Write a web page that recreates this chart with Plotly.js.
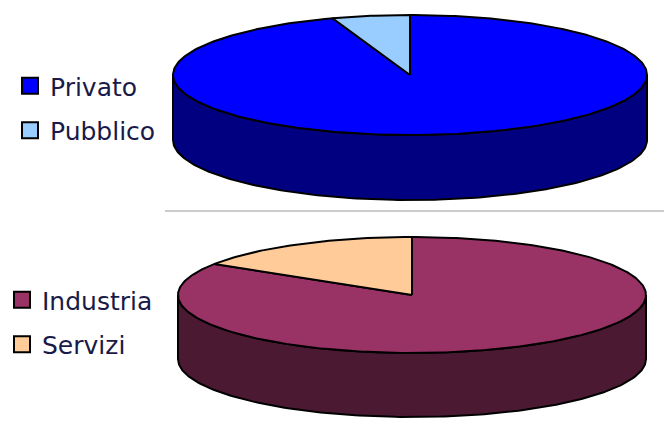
<!DOCTYPE html>
<html>
<head>
<meta charset="utf-8">
<script src="https://cdn.plot.ly/plotly-3.0.1.min.js"></script>
<style>html,body{margin:0;padding:0;background:#fff;}#chart{width:664px;height:422px;}</style>
</head>
<body>
<div id="chart"></div>
<script>
// ---- data ----
const topLabels = ['Privato', 'Pubblico'];
const topValues = [94.7, 5.3];
const topColors = ['#0000FF', '#99CCFF'];
const topSideColors = ['#000080', '#4C6680'];

const botLabels = ['Industria', 'Servizi'];
const botValues = [84, 16];
const botColors = ['#993366', '#FFCC99'];
const botSideColors = ['#4C1933', '#80664C'];

// ---- geometry of the two pseudo-3D pies (pixel space) ----
const topGeom = {cx: 410, cy: 75, rx: 237, ry: 60, depth: 65};
const botGeom = {cx: 412, cy: 295, rx: 234, ry: 58, depth: 64};

function pt(g, deg, dy) {
  const r = deg * Math.PI / 180;
  return [g.cx + g.rx * Math.sin(r), g.cy - g.ry * Math.cos(r) + (dy || 0)];
}
function arc(g, a0, a1, dy) {
  const n = Math.max(2, Math.ceil(Math.abs(a1 - a0)));
  const xs = [], ys = [];
  for (let k = 0; k <= n; k++) {
    const p = pt(g, a0 + (a1 - a0) * k / n, dy);
    xs.push(p[0]); ys.push(p[1]);
  }
  return [xs, ys];
}
function pie3d(labels, values, colors, sideColors, g, legendId) {
  const total = values.reduce((a, b) => a + b, 0);
  const angles = [];
  let acc = 0;
  values.forEach(v => { const a0 = acc / total * 360; acc += v; angles.push([a0, acc / total * 360]); });
  const traces = [];
  // visible side walls (front half: 90..270 deg clockwise from 12 o'clock)
  angles.forEach(([a0, a1], i) => {
    const lo = Math.max(a0, 90), hi = Math.min(a1, 270);
    if (hi > lo) {
      const t = arc(g, lo, hi, 0), b = arc(g, hi, lo, g.depth);
      traces.push({
        type: 'scatter', mode: 'lines', x: t[0].concat(b[0], [t[0][0]]), y: t[1].concat(b[1], [t[1][0]]),
        fill: 'toself', fillcolor: sideColors[i], line: {color: '#000', width: 2},
        hoverinfo: 'skip', showlegend: false
      });
    }
  });
  // top faces
  angles.forEach(([a0, a1], i) => {
    const a = arc(g, a0, a1, 0);
    traces.push({
      type: 'scatter', mode: 'lines', x: [g.cx].concat(a[0], [g.cx]), y: [g.cy].concat(a[1], [g.cy]),
      fill: 'toself', fillcolor: colors[i], line: {color: '#000', width: 2},
      hoverinfo: 'skip', showlegend: false, name: labels[i]
    });
  });
  // legend entries
  labels.forEach((lab, i) => {
    traces.push({
      type: 'scatter', mode: 'markers', x: [null], y: [null], name: lab,
      marker: {symbol: 'square', size: 20, color: colors[i], line: {color: '#000', width: 2}},
      legend: legendId, legendgroup: legendId + i, showlegend: true, hoverinfo: 'skip'
    });
  });
  return traces;
}

const data = pie3d(topLabels, topValues, topColors, topSideColors, topGeom, 'legend')
  .concat(pie3d(botLabels, botValues, botColors, botSideColors, botGeom, 'legend2'));

const legendFont = {family: 'DejaVu Sans, Arial, sans-serif', size: 25, color: '#1a1a48'};
const layout = {
  width: 664, height: 422,
  margin: {l: 0, r: 0, t: 0, b: 0},
  paper_bgcolor: '#fff', plot_bgcolor: '#fff',
  xaxis: {range: [0, 664], visible: false, fixedrange: true},
  yaxis: {range: [422, 0], visible: false, fixedrange: true},
  showlegend: true,
  legend: {x: 10 / 664, y: 1 - 63 / 422, xanchor: 'left', yanchor: 'top', font: legendFont,
           bgcolor: 'rgba(0,0,0,0)', tracegroupgap: 9, itemsizing: 'trace', itemclick: false, itemdoubleclick: false},
  legend2: {x: 2 / 664, y: 1 - 277 / 422, xanchor: 'left', yanchor: 'top', font: legendFont,
            bgcolor: 'rgba(0,0,0,0)', tracegroupgap: 9, itemsizing: 'trace', itemclick: false, itemdoubleclick: false},
  shapes: [{type: 'line', xref: 'x', yref: 'y', x0: 165, x1: 664, y0: 211, y1: 211,
            line: {color: '#9a9a9a', width: 1.2}}]
};
Plotly.newPlot('chart', data, layout, {displayModeBar: false, staticPlot: true});
</script>
</body>
</html>
